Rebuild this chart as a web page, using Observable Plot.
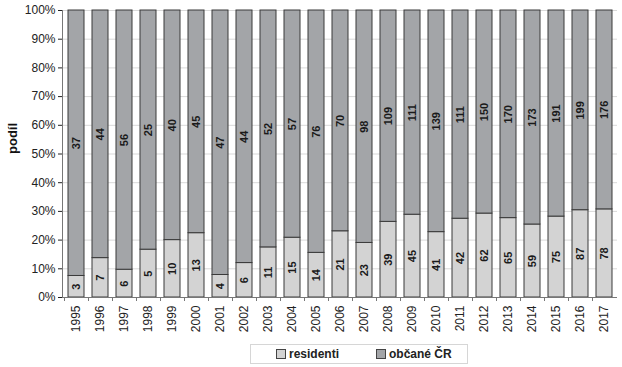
<!DOCTYPE html>
<html>
<head>
<meta charset="utf-8">
<script src="https://cdn.jsdelivr.net/npm/d3@7"></script>
<script src="https://cdn.jsdelivr.net/npm/@observablehq/plot@0.6"></script>
<style>
  body { margin: 0; background: #fff; font-family: "Liberation Sans", Arial, sans-serif; }
  #legend { position: absolute; left: 250px; top: 344px; width: 216px; height: 18px; border: 1px solid #d6d6d6; display: flex; align-items: center; font-weight: bold; font-size: 12px; color: #222; }
  .item { display: flex; align-items: center; position: absolute; }
  .sw { width: 8px; height: 8px; border: 1px solid #444; margin-right: 3px; }
</style>
</head>
<body>
<div id="chart"></div>
<div id="legend"></div>
<script>
const years = ["1995","1996","1997","1998","1999","2000","2001","2002","2003","2004","2005","2006","2007","2008","2009","2010","2011","2012","2013","2014","2015","2016","2017"];
const residenti = [3,7,6,5,10,13,4,6,11,15,14,21,23,39,45,41,42,62,65,59,75,87,78];
const obcane = [37,44,56,25,40,45,47,44,52,57,76,70,98,109,111,139,111,150,170,173,191,199,176];
const seriesNames = ["residenti", "občané ČR"];
const seriesColors = ["#d3d3d3", "#a3a5a8"];
const yTicks = [0,0.1,0.2,0.3,0.4,0.5,0.6,0.7,0.8,0.9,1];

const table = [];
years.forEach((y, i) => {
  table.push({year: y, series: seriesNames[0], value: residenti[i]});
  table.push({year: y, series: seriesNames[1], value: obcane[i]});
});

const font = "Liberation Sans, Arial, sans-serif";
const chart = Plot.plot({
  width: 622,
  height: 342,
  marginLeft: 62,
  marginRight: 5,
  marginTop: 10,
  marginBottom: 45,
  style: {fontFamily: font, fontSize: "12px", color: "#222", background: "#fff"},
  x: {domain: years, paddingInner: 0.337, paddingOuter: 0.17, label: null},
  y: {domain: [0, 1], label: null},
  color: {domain: seriesNames, range: seriesColors},
  marks: [
    Plot.gridY(yTicks, {stroke: "#d9d9d9", strokeOpacity: 1}),
    Plot.barY(table, Plot.stackY({offset: "normalize", x: "year", y: "value", fill: "series", stroke: "#3a3a3a", strokeWidth: 1})),
    Plot.text(table, Plot.stackY({offset: "normalize", x: "year", y: "value", text: "value", rotate: -90, fontWeight: "bold", fontSize: 11, fill: "#1a1a1a"})),
    Plot.axisY({ticks: yTicks, tickFormat: d => Math.round(d * 100) + "%", tickSize: 4, tickPadding: 3, label: null, fontSize: 12}),
    Plot.frame({anchor: "left", stroke: "#777"}),
    Plot.ruleY([0], {stroke: "#777"}),
    Plot.axisX({tickSize: 0, tickRotate: -90, tickPadding: 8, label: null, fontSize: 12}),
    Plot.axisX({tickSize: 4, tickFormat: null, dx: -12, stroke: "#777", label: null}),
    Plot.text(["podíl"], {frameAnchor: "left", rotate: -90, dx: -50, fontWeight: "bold", fontSize: 13, fill: "#111"})
  ]
});
document.getElementById("chart").appendChild(chart);

const legend = document.getElementById("legend");
const lefts = [25, 125];
seriesNames.forEach((name, i) => {
  const it = document.createElement("div");
  it.className = "item";
  it.style.left = lefts[i] + "px";
  const sw = document.createElement("span");
  sw.className = "sw";
  sw.style.background = seriesColors[i];
  it.appendChild(sw);
  it.appendChild(document.createTextNode(name));
  legend.appendChild(it);
});
</script>
</body>
</html>
